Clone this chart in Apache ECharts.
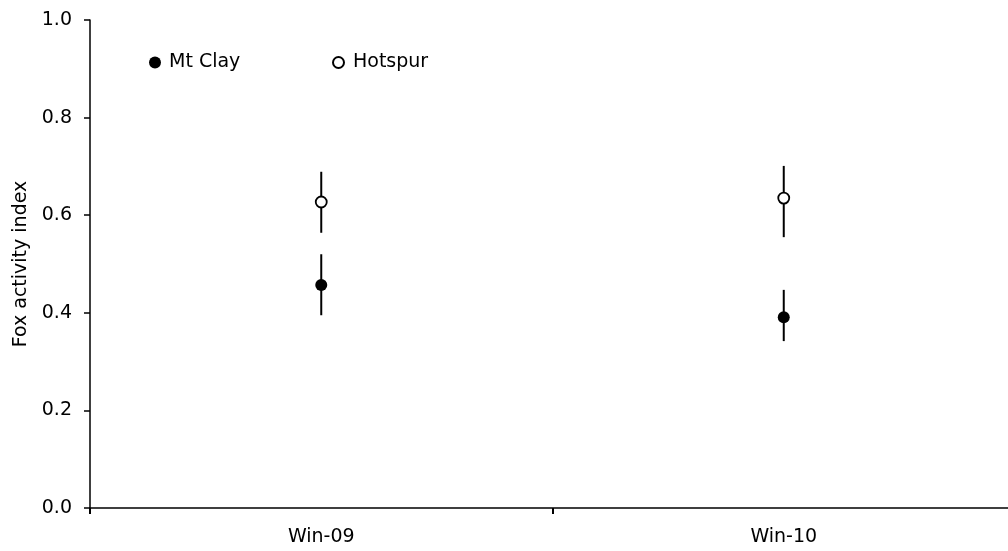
<!DOCTYPE html>
<html>
<head>
<meta charset="utf-8">
<script src="https://cdn.jsdelivr.net/npm/echarts@6/dist/echarts.min.js"></script>
<style>html,body{margin:0;padding:0;background:#fff}#c{width:1008px;height:551px}</style>
</head>
<body>
<div id="c"></div>
<script>
var categories = ['Win-09', 'Win-10'];
var mtClayMean = [0.457, 0.391];
var mtClayLow = [0.395, 0.342];
var mtClayHigh = [0.520, 0.447];
var hotspurMean = [0.627, 0.635];
var hotspurLow = [0.564, 0.555];
var hotspurHigh = [0.689, 0.701];
var yTicks = [0, 0.2, 0.4, 0.6, 0.8, 1.0];

var FONT = 'DejaVu Sans';
function errData(low, high) {
  return categories.map(function (c, i) { return [i, low[i], high[i]]; });
}
function errRender(params, api) {
  var p1 = api.coord([api.value(0), api.value(1)]);
  var p2 = api.coord([api.value(0), api.value(2)]);
  return {
    type: 'line',
    shape: { x1: p1[0], y1: p1[1], x2: p2[0], y2: p2[1] },
    style: { stroke: '#000', lineWidth: 2 }
  };
}
var chart = echarts.init(document.getElementById('c'));
chart.setOption({
  animation: false,
  backgroundColor: '#fff',
  grid: { left: 90, top: 20, bottom: 43, right: -7, outerBoundsMode: 'none', containLabel: false },
  legend: [
    { data: ['Mt Clay'], left: 144, top: 48, itemWidth: 12, itemHeight: 12, icon: 'circle',
      textStyle: { fontFamily: FONT, fontSize: 19, color: '#000', padding: [0, 0, 0, 3] } },
    { data: ['Hotspur'], left: 327, top: 48, itemWidth: 11, itemHeight: 11, icon: 'circle',
      textStyle: { fontFamily: FONT, fontSize: 19, color: '#000', padding: [0, 0, 0, 4] } }
  ],
  xAxis: {
    type: 'category', data: categories,
    axisLine: { lineStyle: { color: '#000', width: 1.5 } },
    axisTick: { show: true, length: 6, lineStyle: { color: '#000', width: 2 } },
    axisLabel: { margin: 20, color: '#000', fontFamily: FONT, fontSize: 19 }
  },
  yAxis: {
    type: 'value', min: 0, max: 1, interval: 0.2,
    name: 'Fox activity index', nameLocation: 'middle', nameGap: 57,
    nameTextStyle: { fontFamily: FONT, fontSize: 19, color: '#000' },
    axisLine: { show: true, lineStyle: { color: '#000', width: 1.5 } },
    axisTick: { show: true, length: 6, lineStyle: { color: '#000', width: 1.5 } },
    axisLabel: { margin: 18, color: '#000', fontFamily: FONT, fontSize: 19,
      formatter: function (v) { return yTicks.indexOf(v) >= 0 ? v.toFixed(1) : ''; } },
    splitLine: { show: false }
  },
  series: [
    { type: 'custom', name: 'errMt', data: errData(mtClayLow, mtClayHigh), renderItem: errRender, z: 1, silent: true },
    { type: 'custom', name: 'errHot', data: errData(hotspurLow, hotspurHigh), renderItem: errRender, z: 1, silent: true },
    { type: 'scatter', name: 'Mt Clay', data: mtClayMean, symbol: 'circle', symbolSize: 12,
      itemStyle: { color: '#000', opacity: 1 }, z: 3 },
    { type: 'scatter', name: 'Hotspur', data: hotspurMean, symbol: 'circle', symbolSize: 11,
      itemStyle: { color: '#fff', borderColor: '#000', borderWidth: 1.8, opacity: 1 }, z: 3 }
  ]
});
</script>
</body>
</html>
